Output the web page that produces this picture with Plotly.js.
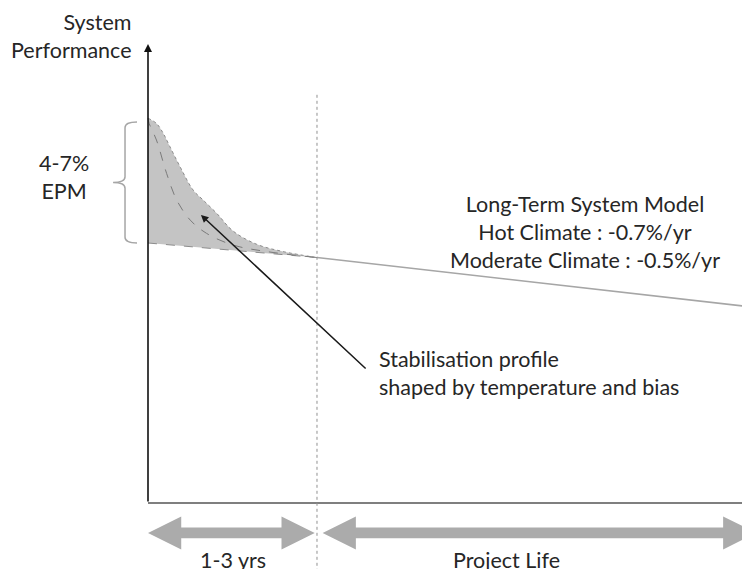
<!DOCTYPE html>
<html>
<head>
<meta charset="utf-8">
<script src="https://cdn.plot.ly/plotly-3.0.1.min.js"></script>
<style>
  body { margin: 0; background: #fff; }
  #chart { width: 742px; height: 569px; }
</style>
</head>
<body>
<div id="chart"></div>
<script>
// Stabilisation profile, years vs relative performance (arbitrary units, 100 = stabilised start)
const upperYears = [0, 0.15, 0.27, 0.39, 0.57, 0.80, 0.98, 1.22, 1.51, 1.93, 2.40, 3.0];
const upperPerf  = [148.0, 146.0, 142.2, 137.0, 129.3, 120.4, 116.5, 111.4, 104.6, 99.5, 96.7, 94.4];
const innerYears = [0, 0.02, 0.15, 0.33, 0.51, 0.75, 1.04, 1.51, 2.11, 3.0];
const innerPerf  = [148.0, 146.0, 139.6, 126.8, 116.5, 108.8, 103.7, 99.2, 96.7, 94.4];
const lowerYears = [0, 3.0];
const lowerPerf  = [100.0, 94.4];

// Long-term degradation after stabilisation
const longTermYears = [3.0, 10.8];
const longTermPerf  = [94.4, 75.2];

// Periods shown by the arrows under the axis
const periodLabels = ['1-3 yrs', 'Project Life'];
const periodStart  = [0, 3];
const periodEnd    = [3, 10.8];
const periodLabelX = [1.51, 6.37];

// EPM band marked by the brace
const epmTop = 146.5;
const epmBottom = 100;

const FONT = 'Lato, "Open Sans", sans-serif';
const FSIZE = 21.5;
const TEXT = '#262626';

/**
 * Build a double headed block arrow between two years
 */
function blockArrow(a, b, yc) {
    const head = 0.59, headH = 6.35, shaftH = 2.1;
    const xs = [a, a + head, a + head, b - head, b - head, b, b - head, b - head, a + head, a + head, a];
    const ys = [yc, yc + headH, yc + shaftH, yc + shaftH, yc + headH, yc, yc - headH, yc - shaftH, yc - shaftH, yc - headH, yc];
    return {x: xs, y: ys};
}

let traces = [];
// lower boundary of the stabilisation band
traces.push({x: lowerYears, y: lowerPerf, mode: 'lines',
    line: {color: '#8c8c8c', width: 1, dash: 'dash'}, hoverinfo: 'skip'});
// upper boundary, filled down to the lower one
traces.push({x: upperYears, y: upperPerf, mode: 'lines', fill: 'tonexty',
    fillcolor: '#c4c4c4', line: {color: '#8c8c8c', width: 1, dash: 'dot', shape: 'spline'},
    hoverinfo: 'skip'});
// inner profile
traces.push({x: innerYears, y: innerPerf, mode: 'lines',
    line: {color: '#7a7a7a', width: 1, dash: 'dash', shape: 'spline'}, hoverinfo: 'skip'});
// long-term model
traces.push({x: longTermYears, y: longTermPerf, mode: 'lines',
    line: {color: '#a6a6a6', width: 1.6}, hoverinfo: 'skip'});

// period arrows
for (let i = 0; i < periodLabels.length; i++) {
    let a = periodStart[i] + (i > 0 ? 0.1 : 0);
    let b = periodEnd[i] - (i == 0 ? 0.04 : 0);
    let arr = blockArrow(a, b, -11.5);
    traces.push({x: arr.x, y: arr.y, mode: 'lines', fill: 'toself', fillcolor: '#ababab',
        line: {width: 0, color: '#ababab'}, hoverinfo: 'skip'});
}

let annotations = [];
// y axis with arrow head
annotations.push({x: 0, y: 176.5, ax: 0, ay: 0, axref: 'x', ayref: 'y', xref: 'x', yref: 'y',
    showarrow: true, arrowhead: 2, arrowsize: 1, arrowwidth: 1.6, arrowcolor: '#111', text: ''});
annotations.push({x: -0.25, y: 179.5, xref: 'x', yref: 'y', xanchor: 'right', yanchor: 'middle',
    align: 'right', showarrow: false, text: 'System<br>Performance',
    font: {family: FONT, size: FSIZE, color: TEXT}});
annotations.push({x: -1.49, y: 125.4, xref: 'x', yref: 'y', xanchor: 'center', yanchor: 'middle',
    showarrow: false, text: '4-7%<br>EPM', font: {family: FONT, size: FSIZE, color: TEXT}});
annotations.push({x: 7.76, y: 104.2, xref: 'x', yref: 'y', xanchor: 'center', yanchor: 'middle',
    showarrow: false, text: 'Long-Term System Model<br>Hot Climate : -0.7%/yr<br>Moderate Climate : -0.5%/yr',
    font: {family: FONT, size: FSIZE, color: TEXT}});
annotations.push({x: 4.07, y: 50.0, xref: 'x', yref: 'y', xanchor: 'left', yanchor: 'middle',
    align: 'left', showarrow: false, text: 'Stabilisation profile<br>shaped by temperature and bias',
    font: {family: FONT, size: FSIZE, color: TEXT}});
// pointer to the profile
annotations.push({x: 0.94, y: 110.8, ax: 3.89, ay: 51.2, axref: 'x', ayref: 'y', xref: 'x', yref: 'y',
    showarrow: true, arrowhead: 2, arrowsize: 1, arrowwidth: 1.5, arrowcolor: '#1a1a1a', text: ''});
for (let i = 0; i < periodLabels.length; i++) {
    annotations.push({x: periodLabelX[i], y: -21.9, xref: 'x', yref: 'y', xanchor: 'center',
        yanchor: 'middle', showarrow: false, text: periodLabels[i],
        font: {family: FONT, size: FSIZE, color: TEXT}});
}

// brace path for the EPM band
const xr = -0.195, xs = -0.408, xt = -0.62, r = 2.2;
const mid = (epmTop + epmBottom) / 2;
const bracePath = 'M ' + xr + ',' + epmTop +
    ' Q ' + xs + ',' + epmTop + ' ' + xs + ',' + (epmTop - r) +
    ' L ' + xs + ',' + (mid + r) +
    ' Q ' + xs + ',' + mid + ' ' + xt + ',' + mid +
    ' Q ' + xs + ',' + mid + ' ' + xs + ',' + (mid - r) +
    ' L ' + xs + ',' + (epmBottom + r) +
    ' Q ' + xs + ',' + epmBottom + ' ' + xr + ',' + epmBottom;

let shapes = [
    // x axis
    {type: 'line', xref: 'x', yref: 'y', x0: 0, x1: 10.8, y0: 0, y1: 0,
        line: {color: '#7f7f7f', width: 2}},
    // end of stabilisation
    {type: 'line', xref: 'x', yref: 'y', x0: 3, x1: 3, y0: 157, y1: -30,
        line: {color: '#909090', width: 1, dash: '3px,3px'}},
    {type: 'path', xref: 'x', yref: 'y', path: bracePath,
        line: {color: '#a6a6a6', width: 1.5}}
];

const PX_PER_YR = 56.33, PX_PER_UNIT = 2.6;
let layout = {
    width: 742, height: 569,
    margin: {l: 0, r: 0, t: 0, b: 0},
    showlegend: false,
    paper_bgcolor: '#fff', plot_bgcolor: '#fff',
    xaxis: {range: [-148 / PX_PER_YR, 594 / PX_PER_YR], visible: false, fixedrange: true},
    yaxis: {range: [-66 / PX_PER_UNIT, 503 / PX_PER_UNIT], visible: false, fixedrange: true},
    annotations: annotations,
    shapes: shapes
};

Plotly.newPlot('chart', traces, layout, {displayModeBar: false, staticPlot: true});
</script>
</body>
</html>
